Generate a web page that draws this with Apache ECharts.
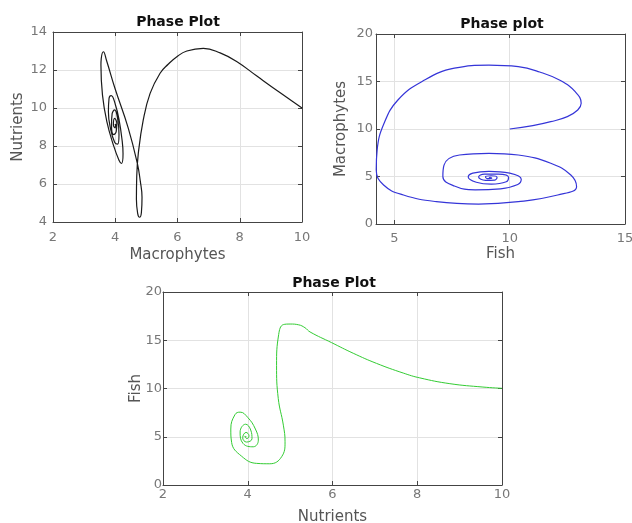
<!DOCTYPE html>
<html>
<head>
    <meta charset="UTF-8">
    <title>Phase plots</title>
    <script src="https://cdn.jsdelivr.net/npm/echarts@6/dist/echarts.min.js"></script>
</head>
<body style="margin:0; background:#fff;">
    <div id="main" style="width:632px; height:523px;"></div>
    <script>
        // plot 1: Macrophytes (x) vs Nutrients (y)
        var p1Macrophytes = [10, 9.3, 8.55, 7.9, 7.37, 6.83, 6.3, 5.98, 5.7, 5.44, 5.12, 4.9, 4.74, 4.69, 4.68, 4.72, 4.78, 4.84, 4.86, 4.8, 4.72, 4.42, 3.99, 3.72, 3.62, 3.55, 3.54, 3.59, 3.73, 3.94, 4.12, 4.2, 4.25, 4.22, 4.12, 4.0, 3.87, 3.8, 3.78, 3.85, 3.98, 4.08, 4.12, 4.08, 3.98, 3.9, 3.88, 3.95, 4.03, 4.05, 3.98, 3.94, 4.0, 4.01, 3.99];
        var p1Nutrients = [10, 10.8, 11.68, 12.45, 12.9, 13.14, 13.0, 12.7, 12.3, 11.83, 10.77, 9.37, 7.6, 6.38, 5.2, 4.45, 4.25, 4.5, 5.3, 6.2, 7.0, 8.93, 11.04, 12.5, 12.96, 12.6, 12.26, 10.68, 9.28, 8.05, 7.25, 7.08, 7.6, 8.3, 9.4, 10.2, 10.65, 10.5, 9.8, 8.9, 8.2, 8.1, 8.6, 9.4, 9.9, 9.7, 9.1, 8.6, 8.75, 9.2, 9.45, 9.1, 8.95, 9.15, 9.1];

        // plot 2: Fish (x) vs Macrophytes (y)
        var p2Fish = [10, 11.0, 11.78, 12.5, 12.95, 13.1, 12.85, 12.2, 11.3, 10.37, 9.1, 7.6, 6.2, 5.15, 4.55, 4.25, 4.21, 4.53, 5.39, 6.82, 8.65, 10.37, 12.08, 12.9, 12.65, 11.78, 10.37, 9.1, 7.82, 7.15, 7.1, 7.6, 8.5, 9.6, 10.35, 10.5, 10.0, 9.1, 8.4, 8.2, 8.55, 9.2, 9.85, 9.95, 9.5, 8.9, 8.65, 8.95, 9.35, 9.45, 9.2, 8.95, 9.02, 9.22, 9.15, 9.1];
        var p2Macrophytes = [10, 10.35, 10.77, 11.3, 12.0, 12.7, 13.9, 15.1, 16.0, 16.56, 16.72, 16.4, 15.0, 13.05, 10.6, 7.8, 5.7, 4.1, 3.05, 2.35, 2.1, 2.35, 3.05, 3.93, 5.16, 6.39, 7.26, 7.44, 7.26, 6.2, 5.0, 4.0, 3.6, 3.7, 4.15, 4.7, 5.35, 5.55, 5.35, 4.95, 4.4, 4.2, 4.45, 4.9, 5.25, 5.25, 4.95, 4.6, 4.62, 4.9, 5.08, 4.98, 4.78, 4.82, 4.92, 4.87];

        // plot 3: Nutrients (x) vs Fish (y)
        var p3Nutrients = [10, 9.55, 8.77, 8.06, 7.67, 7.04, 6.49, 5.98, 5.47, 5.35, 5.2, 5.0, 4.84, 4.73, 4.68, 4.72, 4.84, 4.88, 4.8, 4.52, 4.21, 3.85, 3.62, 3.6, 3.7, 3.82, 4.0, 4.18, 4.25, 4.13, 3.89, 3.82, 3.95, 4.07, 4.1, 3.97, 3.88, 3.96, 4.03, 3.98, 3.93, 3.97];
        var p3Fish = [10.02, 10.15, 10.5, 11.1, 11.6, 12.6, 13.65, 14.75, 15.86, 16.3, 16.6, 16.68, 16.62, 15.6, 12.4, 8.97, 6.2, 4.48, 2.93, 2.2, 2.24, 3.0, 4.4, 5.8, 7.3, 7.55, 7.0, 5.8, 4.65, 3.96, 4.3, 5.5, 6.3, 5.7, 4.8, 4.45, 4.9, 5.45, 5.1, 4.8, 5.05, 5.0];

        var titles = ['Phase Plot', 'Phase plot', 'Phase Plot'];

        function pairs(xs, ys) {
            var out = [];
            for (var i = 0; i < xs.length; i++) out.push([xs[i], ys[i]]);
            return out;
        }

        var FONT = '"DejaVu Sans", Verdana, sans-serif';
        var gridLine = {show: true, lineStyle: {color: '#e2e2e2', width: 1}};

        function mainAxis(gi, pos, min, max, interval, name, gap, margin, extra) {
            var ax = {
                type: 'value', gridIndex: gi, position: pos, min: min, max: max, interval: interval,
                name: name, nameLocation: 'middle', nameGap: gap,
                nameTextStyle: {color: '#555', fontSize: 15, fontFamily: FONT},
                axisLine: {show: true, onZero: false, lineStyle: {color: '#444', width: 1}},
                axisTick: {show: true, inside: true, length: 4, lineStyle: {color: '#444'}},
                axisLabel: {color: '#777', fontSize: 13, fontFamily: FONT, margin: margin},
                splitLine: gridLine
            };
            if (extra) {
                ax.axisLabel.customValues = extra;
                ax.axisTick.customValues = extra;
            }
            return ax;
        }
        function sideAxis(gi, pos, min, max, interval, extra) {
            var ax = {
                type: 'value', gridIndex: gi, position: pos, min: min, max: max, interval: interval,
                axisLine: {show: true, onZero: false, lineStyle: {color: '#444', width: 1}},
                axisTick: {show: true, inside: true, length: 4, lineStyle: {color: '#444'}},
                axisLabel: {show: false},
                splitLine: {show: false}
            };
            if (extra) ax.axisTick.customValues = extra;
            return ax;
        }
        var titleStyle = {fontSize: 14, fontWeight: 'bold', color: '#111', fontFamily: FONT};

        // the bottom plot's y name sits close to its labels
        var fishAxis = mainAxis(2, 'left', 0, 20, 5, 'Fish', 19, 1);
        fishAxis.nameMoveOverlap = false;

        var chart = echarts.init(document.getElementById('main'), null, {renderer: 'canvas'});
        chart.setOption({
            backgroundColor: '#fff',
            animation: false,
            title: [
                {text: titles[0], left: 178, top: 15, textAlign: 'center', padding: 0, textStyle: titleStyle},
                {text: titles[1], left: 502, top: 17, textAlign: 'center', padding: 0, textStyle: titleStyle},
                {text: titles[2], left: 334, top: 276, textAlign: 'center', padding: 0, textStyle: titleStyle}
            ],
            grid: [
                {left: 53, top: 32, width: 249, height: 190, outerBoundsMode: 'none'},
                {left: 376, top: 34, width: 249, height: 190, outerBoundsMode: 'none'},
                {left: 163, top: 292, width: 339, height: 193, outerBoundsMode: 'none'}
            ],
            xAxis: [
                mainAxis(0, 'bottom', 2, 10, 2, 'Macrophytes', 26, 9),
                mainAxis(1, 'bottom', 4.2, 15, null, 'Fish', 23, 8, [5, 10, 15]),
                mainAxis(2, 'bottom', 2, 10, 2, 'Nutrients', 25, 3),
                sideAxis(0, 'top', 2, 10, 2),
                sideAxis(1, 'top', 4.2, 15, null, [5, 10, 15]),
                sideAxis(2, 'top', 2, 10, 2)
            ],
            yAxis: [
                mainAxis(0, 'left', 4, 14, 2, 'Nutrients', 27, 6),
                mainAxis(1, 'left', 0, 20, 5, 'Macrophytes', 27, 3),
                fishAxis,
                sideAxis(0, 'right', 4, 14, 2),
                sideAxis(1, 'right', 0, 20, 5),
                sideAxis(2, 'right', 0, 20, 5)
            ],
            series: [
                {type: 'line', xAxisIndex: 0, yAxisIndex: 0, data: pairs(p1Macrophytes, p1Nutrients), showSymbol: false, smooth: 0.45, lineStyle: {color: '#1a1a1a', width: 1.2}},
                {type: 'line', xAxisIndex: 1, yAxisIndex: 1, data: pairs(p2Fish, p2Macrophytes), showSymbol: false, smooth: 0.45, lineStyle: {color: '#3535d8', width: 1.2}},
                {type: 'line', xAxisIndex: 2, yAxisIndex: 2, data: pairs(p3Nutrients, p3Fish), showSymbol: false, smooth: 0.45, lineStyle: {color: '#33cc33', width: 1}}
            ]
        });
    </script>
</body>
</html>
